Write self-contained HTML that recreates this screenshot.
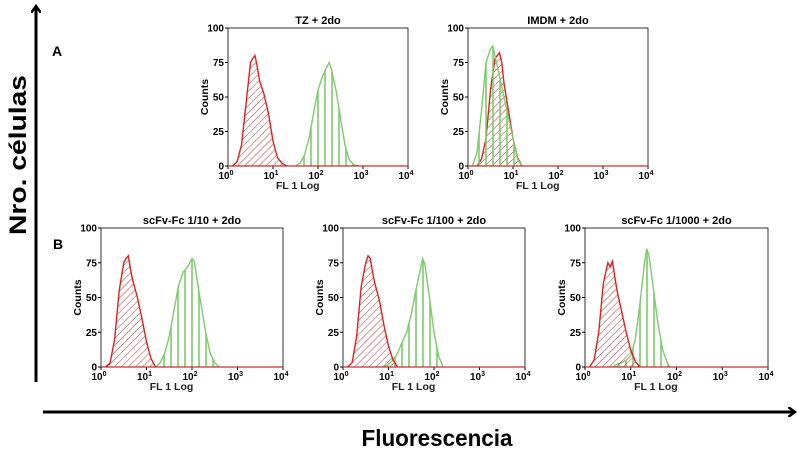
<!DOCTYPE html>
<html><head><meta charset="utf-8"><style>
html,body{margin:0;padding:0;background:#fff;}
svg{display:block;font-family:"Liberation Sans",Arial,sans-serif;}
</style></head><body>
<svg id="fig" width="800" height="450" viewBox="0 0 800 450">
<defs>
<marker id="ah" markerWidth="10" markerHeight="10" refX="5" refY="5" orient="auto" markerUnits="userSpaceOnUse">
<path d="M0,0 L7,5 L0,10" fill="none" stroke="#000" stroke-width="2.5"/></marker>
<pattern id="hatchR" width="5" height="5" patternUnits="userSpaceOnUse" patternTransform="rotate(45)">
<line x1="0" y1="0" x2="0" y2="5" stroke="#c03030" stroke-width="1"/></pattern>
<pattern id="hatchG" width="7" height="7" patternUnits="userSpaceOnUse">
<line x1="3" y1="0" x2="3" y2="7" stroke="#7ccc6a" stroke-width="1.6"/></pattern>
</defs>
<line x1="36" y1="382" x2="36" y2="8" stroke="#000" stroke-width="3" marker-end="url(#ah)"/>
<line x1="43" y1="412" x2="793" y2="412" stroke="#000" stroke-width="3" marker-end="url(#ah)"/>
<text transform="translate(26,155) rotate(-90)" text-anchor="middle" font-size="24" font-weight="bold" textLength="160" lengthAdjust="spacingAndGlyphs">Nro. células</text>
<text x="437" y="446" text-anchor="middle" font-size="23" font-weight="bold" textLength="151" lengthAdjust="spacingAndGlyphs">Fluorescencia</text>
<text x="52" y="56" font-size="14" font-weight="bold">A</text>
<text x="53" y="249" font-size="14" font-weight="bold">B</text>
<g id="panels"></g>
</svg>
<script>
const yTicks = [0, 25, 50, 75, 100];
const xDecades = [0, 1, 2, 3, 4];
const panelTitles = ["TZ  + 2do", "IMDM + 2do", "scFv-Fc 1/10 + 2do", "scFv-Fc 1/100 + 2do", "scFv-Fc 1/1000 + 2do"];
// log10 fluorescence bins and counts
const redX = [[0.1,0.2,0.3,0.4,0.5,0.55,0.6,0.65,0.7,0.8,0.9,1.0,1.1,1.2,1.3],
  [0.2,0.3,0.4,0.5,0.6,0.65,0.7,0.75,0.8,0.9,1.0,1.1,1.2],
  [0.1,0.2,0.3,0.4,0.5,0.55,0.6,0.65,0.7,0.8,0.9,1.0,1.1,1.2],
  [0.1,0.2,0.3,0.4,0.5,0.55,0.6,0.65,0.7,0.8,0.9,1.0,1.1,1.2],
  [0.1,0.2,0.3,0.4,0.5,0.55,0.6,0.65,0.7,0.8,0.9,1.0,1.1,1.2]];
const redY = [[0,3,15,45,75,78,80,72,62,52,38,18,6,2,0],
  [0,5,20,55,78,80,82,75,60,40,20,6,0],
  [0,3,20,55,75,78,80,70,62,50,35,18,6,0],
  [0,3,22,58,75,80,78,68,60,48,30,15,5,0],
  [0,5,25,60,75,72,76,65,55,40,25,12,4,0]];
const greenX = [[1.5,1.6,1.7,1.8,1.9,2.0,2.1,2.2,2.25,2.3,2.4,2.5,2.6,2.7,2.8,2.9],
  [0.1,0.2,0.3,0.4,0.5,0.55,0.6,0.7,0.8,0.9,1.0,1.1,1.2],
  [1.2,1.3,1.4,1.5,1.6,1.7,1.8,1.9,2.0,2.05,2.1,2.2,2.3,2.4,2.5,2.6],
  [0.9,1.0,1.1,1.2,1.3,1.4,1.5,1.6,1.7,1.75,1.8,1.9,2.0,2.1,2.2],
  [0.6,0.7,0.8,0.9,1.0,1.1,1.2,1.3,1.35,1.4,1.5,1.6,1.7,1.8,1.85]];
const greenY = [[0,2,8,20,38,55,65,72,75,70,55,35,15,4,1,0],
  [0,10,40,75,85,87,80,65,50,35,20,5,0],
  [0,3,10,22,40,58,68,72,78,76,65,45,25,10,3,0],
  [0,2,5,10,18,25,38,55,70,78,74,50,25,8,0],
  [0,2,3,5,8,20,45,75,85,80,55,30,12,3,0]];
const geom = [[228,408,28,166],[468,648,28,166],[101,283,228,367],[343,525,228,367],[585,768,228,367]];
const NS = "http://www.w3.org/2000/svg";
const root = document.getElementById("panels");
function mk(tag, attrs, parent){const e=document.createElementNS(NS,tag);for(const k in attrs)e.setAttribute(k,attrs[k]);parent.appendChild(e);return e;}
geom.forEach((g,i)=>{
  const [x0,x1,y0,y1]=g;
  const sx=v=>x0+(x1-x0)*v/4, sy=v=>y1-(y1-y0)*v/100;
  const grp=mk("g",{},root);
  
  
  const t=mk("text",{x:(x0+x1)/2,y:y0-4,"text-anchor":"middle","font-size":"11","font-weight":"bold"},grp);
  t.textContent=panelTitles[i];
  
  
  const box=mk("rect",{x:x0,y:y0,width:x1-x0,height:y1-y0,fill:"none",stroke:"#000","stroke-width":"0.8"},grp);
  
  
  yTicks.forEach(v=>{
    mk("line",{x1:x0-3,x2:x0,y1:sy(v),y2:sy(v),stroke:"#000"},grp);
    const l=mk("text",{x:x0-4,y:sy(v)+3.5,"text-anchor":"end","font-size":"10","font-weight":"bold"},grp);
    l.textContent=v;
    
    
  });
  xDecades.forEach(d=>{
    mk("line",{x1:sx(d),x2:sx(d),y1:y1,y2:y1+3,stroke:"#000"},grp);
    const l=mk("text",{x:sx(d)-2,y:y1+13,"text-anchor":"middle","font-size":"10","font-weight":"bold"},grp);
    l.innerHTML='10<tspan dy="-4" font-size="7">'+d+'</tspan>';
    
    
  });
  const xl=mk("text",{x:sx(1.55),y:y1+23,"text-anchor":"middle","font-size":"10.5","font-weight":"bold",fill:"#222"},grp);
  xl.textContent="FL 1 Log";
  
  
  const yl=mk("text",{transform:`translate(${x0-20},${(y0+y1)/2}) rotate(-90)`,"text-anchor":"middle","font-size":"10.5","font-weight":"bold"},grp);
  yl.textContent="Counts";
  
  
  const series=[[greenX[i],greenY[i],"#7ccc6a","url(#hatchG)","green-histogram"],[redX[i],redY[i],"#e02020","url(#hatchR)","red-histogram"]];
  if(i===1) series.reverse();
  series.forEach(([xs,ys,col,pat,name])=>{
    let d=`M${sx(xs[0])},${sy(0)}`;
    xs.forEach((x,k)=>{d+=` L${sx(x)},${sy(ys[k])}`;});
    d+=` L${sx(xs[xs.length-1])},${sy(0)}`;
    const f=mk("path",{d:d+"Z",fill:pat,stroke:"none"},grp);
    
    
    const p=mk("path",{d:d,fill:"none",stroke:col,"stroke-width":"1.4"},grp);
    
    
  });
  mk("line",{x1:x0,x2:x1,y1:y1,y2:y1,stroke:"#c03030","stroke-width":"1.2"},grp);
});
</script>
</body></html>
